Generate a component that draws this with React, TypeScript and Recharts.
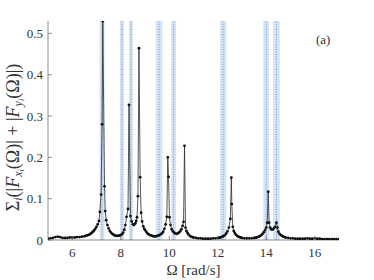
import React from "react";
import {
  ComposedChart,
  Line,
  XAxis,
  YAxis,
  ReferenceArea,
  ReferenceLine,
} from "recharts";

// excitation frequency Ω [rad/s]
const omega = [
  5.0, 5.1, 5.2, 5.3, 5.4, 5.5, 5.6, 5.7, 5.8, 5.9,
  6.0, 6.1, 6.2, 6.3, 6.4, 6.5, 6.55, 6.6, 6.65, 6.7,
  6.75, 6.8, 6.85, 6.9, 6.95, 7.0, 7.05, 7.1, 7.14, 7.19,
  7.23, 7.26, 7.33, 7.36, 7.4, 7.45, 7.5, 7.55, 7.6, 7.65,
  7.7, 7.75, 7.8, 7.85, 7.9, 7.95, 8.0, 8.05, 8.1, 8.15,
  8.19, 8.24, 8.3, 8.34, 8.4, 8.45, 8.5, 8.55, 8.6, 8.64,
  8.67, 8.71, 8.75, 8.8, 8.84, 8.88, 8.93, 8.97, 9.0, 9.05,
  9.1, 9.15, 9.2, 9.25, 9.3, 9.35, 9.4, 9.45, 9.5, 9.55,
  9.6, 9.65, 9.7, 9.75, 9.8, 9.85, 9.9, 9.94, 9.97, 10.01,
  10.05, 10.1, 10.15, 10.2, 10.25, 10.3, 10.35, 10.4, 10.45, 10.5,
  10.55, 10.59, 10.63, 10.67, 10.71, 10.75, 10.8, 10.85, 10.9, 10.95,
  11.0, 11.1, 11.2, 11.3, 11.4, 11.5, 11.6, 11.7, 11.8, 11.9,
  12.0, 12.05, 12.1, 12.15, 12.2, 12.25, 12.3, 12.35, 12.4, 12.46,
  12.52, 12.56, 12.58, 12.62, 12.66, 12.7, 12.75, 12.8, 12.85, 12.9,
  12.95, 13.0, 13.1, 13.2, 13.3, 13.4, 13.5, 13.55, 13.6, 13.65,
  13.7, 13.75, 13.8, 13.85, 13.9, 13.95, 14.0, 14.04, 14.08, 14.12,
  14.16, 14.2, 14.25, 14.3, 14.35, 14.42, 14.46, 14.5, 14.55, 14.6,
  14.65, 14.7, 14.75, 14.8, 14.9, 15.0, 15.1, 15.2, 15.3, 15.4,
  15.5, 15.6, 15.7, 15.8, 15.9, 16.0, 16.1, 16.2, 16.3, 16.4,
  16.5, 16.6, 16.7, 16.8, 16.9, 17.0,
];

// Σ_i(|F_xi(Ω)| + |F_yi(Ω)|)
const sumForce = [
  0.003, 0.004, 0.005, 0.007, 0.008, 0.007, 0.005, 0.005, 0.005, 0.006,
  0.006, 0.006, 0.007, 0.007, 0.008, 0.009, 0.01, 0.011, 0.012, 0.013,
  0.015, 0.017, 0.02, 0.023, 0.027, 0.032, 0.038, 0.046, 0.068, 0.11,
  0.28, 0.53, 0.13, 0.07, 0.048, 0.036, 0.028, 0.022, 0.018, 0.015,
  0.013, 0.011, 0.01, 0.01, 0.01, 0.011, 0.012, 0.014, 0.018, 0.025,
  0.036, 0.056, 0.075, 0.327, 0.058, 0.045, 0.038, 0.036, 0.04, 0.046,
  0.055, 0.106, 0.464, 0.152, 0.066, 0.045, 0.033, 0.027, 0.024, 0.02,
  0.016, 0.014, 0.012, 0.011, 0.01, 0.009, 0.009, 0.009, 0.01, 0.011,
  0.012, 0.014, 0.016, 0.02, 0.027, 0.038, 0.056, 0.2, 0.153, 0.055,
  0.036, 0.026, 0.021, 0.018, 0.016, 0.015, 0.016, 0.018, 0.021, 0.026,
  0.034, 0.044, 0.228, 0.03, 0.022, 0.017, 0.013, 0.01, 0.008, 0.007,
  0.006, 0.005, 0.004, 0.004, 0.003, 0.003, 0.003, 0.003, 0.004, 0.004,
  0.005, 0.005, 0.006, 0.007, 0.008, 0.01, 0.012, 0.016, 0.021, 0.03,
  0.051, 0.151, 0.087, 0.032, 0.022, 0.017, 0.013, 0.01, 0.008, 0.007,
  0.006, 0.005, 0.004, 0.004, 0.004, 0.004, 0.005, 0.005, 0.006, 0.007,
  0.008, 0.01, 0.012, 0.015, 0.019, 0.024, 0.03, 0.042, 0.117, 0.042,
  0.03, 0.026, 0.025, 0.027, 0.031, 0.042, 0.03, 0.02, 0.015, 0.012,
  0.01, 0.008, 0.007, 0.006, 0.005, 0.004, 0.004, 0.003, 0.003, 0.003,
  0.003, 0.003, 0.004, 0.003, 0.003, 0.004, 0.003, 0.003, 0.002, 0.002,
  0.002, 0.002, 0.002, 0.002, 0.002, 0.002,
];

// natural frequencies (band centres) and band half-widths
const bandCenters = [7.23, 8.05, 8.42, 9.58, 10.18, 12.22, 14.0, 14.42];
const bandHalfWidths = [0.1, 0.08, 0.08, 0.14, 0.1, 0.13, 0.12, 0.14];

const xTicks = [6, 8, 10, 12, 14, 16];
const yTicks = [0, 0.1, 0.2, 0.3, 0.4, 0.5];

const data = omega.map((w, i) => ({ w, v: sumForce[i] }));

const FONT = '"Liberation Serif", "DejaVu Serif", serif';
const FRAME = "#6e6e6e";
const TXT = { fontFamily: FONT };

const BottomTick = (props: any) => {
  const { x, y, payload } = props;
  return (
    <g>
      <line x1={x} y1={y} x2={x} y2={y - 4} stroke={FRAME} strokeWidth={0.8} />
      <text x={x} y={y + 17} textAnchor="middle" fontFamily={FONT} style={TXT} fontSize={13} fill="#333">
        {payload.value}
      </text>
    </g>
  );
};

const TopTick = (props: any) => {
  const { x, y } = props;
  return <line x1={x} y1={y} x2={x} y2={y + 4} stroke={FRAME} strokeWidth={0.8} />;
};

const LeftTick = (props: any) => {
  const { x, y, payload } = props;
  return (
    <g>
      <line x1={x} y1={y} x2={x + 4} y2={y} stroke={FRAME} strokeWidth={0.8} />
      <text x={x - 5} y={y + 4.5} textAnchor="end" fontFamily={FONT} style={TXT} fontSize={13} fill="#333">
        {payload.value === 0 ? "0" : payload.value.toFixed(1)}
      </text>
    </g>
  );
};

const RightTick = (props: any) => {
  const { x, y } = props;
  return <line x1={x} y1={y} x2={x - 4} y2={y} stroke={FRAME} strokeWidth={0.8} />;
};

const YLabel = (props: any) => {
  const vb = props.viewBox || {};
  const cx = (vb.x || 0) + 19;
  const cy = (vb.y || 0) + (vb.height || 0) / 2 + 7;
  return (
    <text
      x={cx}
      y={cy}
      transform={`rotate(-90 ${cx} ${cy})`}
      textAnchor="middle"
      fontFamily={FONT}
      style={TXT}
      fontSize={18}
      fill="#333"
    >
      <tspan>Σ</tspan>
      <tspan fontStyle="italic" fontSize={12} dy={3}>i</tspan>
      <tspan dy={-3}>(|</tspan>
      <tspan fontStyle="italic">F</tspan>
      <tspan fontStyle="italic" fontSize={12} dy={3}>x</tspan>
      <tspan fontStyle="italic" fontSize={8.5} dy={2}>i</tspan>
      <tspan dy={-5}>(Ω)| + |</tspan>
      <tspan fontStyle="italic">F</tspan>
      <tspan fontStyle="italic" fontSize={12} dy={3}>y</tspan>
      <tspan fontStyle="italic" fontSize={8.5} dy={2}>i</tspan>
      <tspan dy={-5}>(Ω)|)</tspan>
    </text>
  );
};

const XLabel = (props: any) => {
  const vb = props.viewBox || {};
  const cx = (vb.x || 0) + (vb.width || 0) / 2;
  const cy = (vb.y || 0) + 35;
  return (
    <text x={cx} y={cy} textAnchor="middle" fontFamily={FONT} style={TXT} fontSize={15} fill="#333">
      Ω [rad/s]
    </text>
  );
};

export default function App() {
  return (
    <div style={{ position: "absolute", left: 0, top: 0, width: 374, height: 280, background: "#fff" }}>
      <ComposedChart
        width={374}
        height={280}
        data={data}
        margin={{ top: 21, right: 35, bottom: 0, left: 0 }}
      >
        <XAxis
          xAxisId="b"
          dataKey="w"
          type="number"
          domain={[5, 17]}
          ticks={xTicks}
          allowDataOverflow
          height={40}
          tickSize={0}
          tickMargin={0}
          tick={<BottomTick />}
          axisLine={{ stroke: FRAME, strokeWidth: 0.8 }}
          label={<XLabel />}
        />
        <XAxis
          xAxisId="t"
          dataKey="w"
          type="number"
          orientation="top"
          domain={[5, 17]}
          ticks={xTicks}
          allowDataOverflow
          height={0}
          tickSize={0}
          tickMargin={0}
          tick={<TopTick />}
          axisLine={{ stroke: FRAME, strokeWidth: 0.8 }}
        />
        <YAxis
          yAxisId="l"
          type="number"
          domain={[0, 0.53]}
          ticks={yTicks}
          allowDataOverflow
          width={48}
          tickSize={0}
          tickMargin={0}
          tick={<LeftTick />}
          axisLine={{ stroke: FRAME, strokeWidth: 0.8 }}
          label={<YLabel />}
        />
        <YAxis
          yAxisId="r"
          orientation="right"
          type="number"
          domain={[0, 0.53]}
          ticks={yTicks}
          allowDataOverflow
          width={0}
          tickSize={0}
          tickMargin={0}
          tick={<RightTick />}
          axisLine={{ stroke: FRAME, strokeWidth: 0.8 }}
        />
        {bandCenters.map((c, i) => (
          <ReferenceArea
            key={`a${i}`}
            xAxisId="b"
            yAxisId="l"
            x1={c - bandHalfWidths[i]}
            x2={c + bandHalfWidths[i]}
            y1={0}
            y2={0.53}
            fill="#d4e4f7"
            fillOpacity={1}
            stroke="none"
          />
        ))}
        {bandCenters.map((c, i) => (
          <ReferenceLine
            key={`l${i}`}
            xAxisId="b"
            yAxisId="l"
            x={c}
            stroke="#8196b3"
            strokeWidth={1}
            strokeDasharray="1 1.5"
          />
        ))}
        <Line
          xAxisId="b"
          yAxisId="l"
          dataKey="v"
          type="linear"
          stroke="#2a2a2a"
          strokeWidth={0.8}
          dot={{ r: 1.4, fill: "#111", stroke: "none" }}
          activeDot={false}
          isAnimationActive={false}
        />
      </ComposedChart>
      <div
        style={{
          position: "absolute",
          left: 316,
          top: 32,
          fontFamily: FONT,
          fontSize: 13,
          color: "#333",
          lineHeight: "16px",
        }}
      >
        (a)
      </div>
    </div>
  );
}
